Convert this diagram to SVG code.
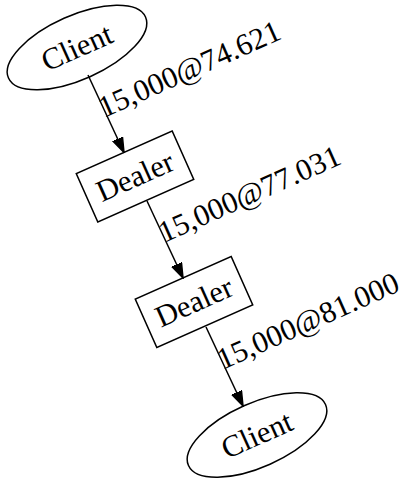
<svg xmlns="http://www.w3.org/2000/svg" width="406" height="479" viewBox="0 0 406 479">
  <style>
    .shape { fill: #ffffff; stroke: #000000; stroke-width: 1.5; }
    .label { font-family: "Liberation Serif", "Times New Roman", serif; font-size: 30.5px; fill: #000000; }
    .edge { fill: none; stroke: #000000; stroke-width: 1.5; }
  </style>
  <defs>
    <marker id="arrow" markerUnits="userSpaceOnUse" markerWidth="16" markerHeight="12" viewBox="0 -6 16 12" refX="15" refY="0" orient="auto">
      <path d="M0,-5.25 L15,0 L0,5.25 Z" fill="#000000" stroke="#000000" stroke-width="1.5"/>
    </marker>
  </defs>
  <rect width="406" height="479" fill="#ffffff"/>

  <g id="client-top" transform="translate(77,47.5) rotate(-24)">
    <ellipse class="shape" cx="0" cy="0" rx="75" ry="32"/>
    <text class="label" x="0" y="10" text-anchor="middle">Client</text>
  </g>

  <g id="dealer-1" transform="translate(135,176.5) rotate(-24)">
    <rect class="shape" x="-52.5" y="-26.5" width="105" height="53"/>
    <text class="label" x="0" y="10" text-anchor="middle">Dealer</text>
  </g>

  <g id="dealer-2" transform="translate(194,302) rotate(-24)">
    <rect class="shape" x="-52.5" y="-26.5" width="105" height="53"/>
    <text class="label" x="0" y="10" text-anchor="middle">Dealer</text>
  </g>

  <g id="client-bottom" transform="translate(257,435) rotate(-24)">
    <ellipse class="shape" cx="0" cy="0" rx="75" ry="32"/>
    <text class="label" x="0" y="10" text-anchor="middle">Client</text>
  </g>

  <g id="connectors">
    <line class="edge" x1="88" y1="75" x2="124" y2="152.5" marker-end="url(#arrow)"/>
    <line class="edge" x1="147" y1="201" x2="183" y2="278" marker-end="url(#arrow)"/>
    <line class="edge" x1="206" y1="327" x2="243" y2="406" marker-end="url(#arrow)"/>
    <text class="label" transform="translate(104,118) rotate(-24)">15,000@74.621</text>
    <text class="label" transform="translate(164,243) rotate(-24)">15,000@77.031</text>
    <text class="label" transform="translate(222.5,370) rotate(-24)">15,000@81.000</text>
  </g>
</svg>
